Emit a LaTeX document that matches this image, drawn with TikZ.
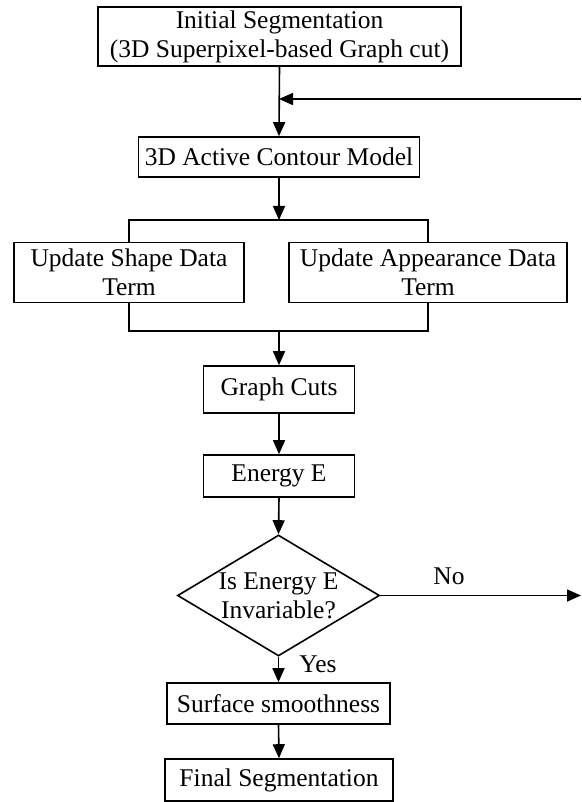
\documentclass[tikz,border=0pt]{standalone}
\usepackage{fontspec}
\setmainfont{Liberation Serif}
\usetikzlibrary{arrows.meta,shapes.geometric}
\begin{document}
\begin{tikzpicture}[x=1pt,y=-1pt,
  every node/.style={font=\fontsize{25.5}{29}\selectfont},
  box/.style={draw, line width=1.6pt, inner sep=0pt, align=center},
  decision/.style={draw, diamond, line width=1.6pt, inner sep=0pt,
                   minimum width=202pt, minimum height=121pt},
  link/.style={line width=1.6pt},
  flow/.style={link, -{Triangle[width=12pt,length=14pt]}},
  tag/.style={inner sep=0pt}]

\useasboundingbox (0,0) rectangle (581,802);

% process steps
\node[box, minimum width=363pt, minimum height=59pt] (init) at (279.5,36.5)
  {Initial Segmentation\\(3D Superpixel-based Graph cut)};
\node[box, minimum width=281pt, minimum height=40pt] (acm) at (279,157)
  {3D Active Contour Model};
\node[box, minimum width=230pt, minimum height=60pt] (shape) at (129,272.5)
  {Update Shape Data\\Term};
\node[box, minimum width=278pt, minimum height=60pt] (app) at (428,272.5)
  {Update Appearance Data\\Term};
\node[box, minimum width=151pt, minimum height=47pt] (gc) at (279,389.5)
  {Graph Cuts};
\node[box, minimum width=151pt, minimum height=42pt] (energy) at (279,476)
  {Energy E};
\node[decision] (dia) at (278.5,595.5) {};
\node[align=center, inner sep=0pt] (diatext) at (278.5,596)
  {Is Energy E\\Invariable?};
\node[box, minimum width=223pt, minimum height=41pt] (surf) at (278.5,703.5)
  {Surface smoothness};
\node[box, minimum width=228pt, minimum height=42pt] (final) at (279,780)
  {Final Segmentation};

% helper points
\coordinate (fbin) at (279,99);
\coordinate (fbout) at (581,99);
\coordinate (split) at (279,220);
\coordinate (merge) at (279,331);
\coordinate (noend) at (581,595.5);

% main flow
\draw[flow] (init.south) -- (acm.north);
\draw[flow] (fbout) -- (fbin);
\draw[flow] (acm.south) -- (split);
\draw[link] (shape.north) -- (shape.north |- split) -- (app.north |- split) -- (app.north);
\draw[link] (shape.south) -- (shape.south |- merge) -- (app.south |- merge) -- (app.south);
\draw[flow] (merge) -- (gc.north);
\draw[flow] (gc.south) -- (energy.north);
\draw[flow] (energy.south) -- (dia.north);
\draw[flow] (dia.south) -- (surf.north);
\draw[flow] (surf.south) -- (final.north);
\draw[flow] (dia.east) -- (noend);

% branch labels
\node[tag] (yes) at (318,664) {Yes};
\node[tag] (no) at (449,576) {No};

\end{tikzpicture}
\end{document}
